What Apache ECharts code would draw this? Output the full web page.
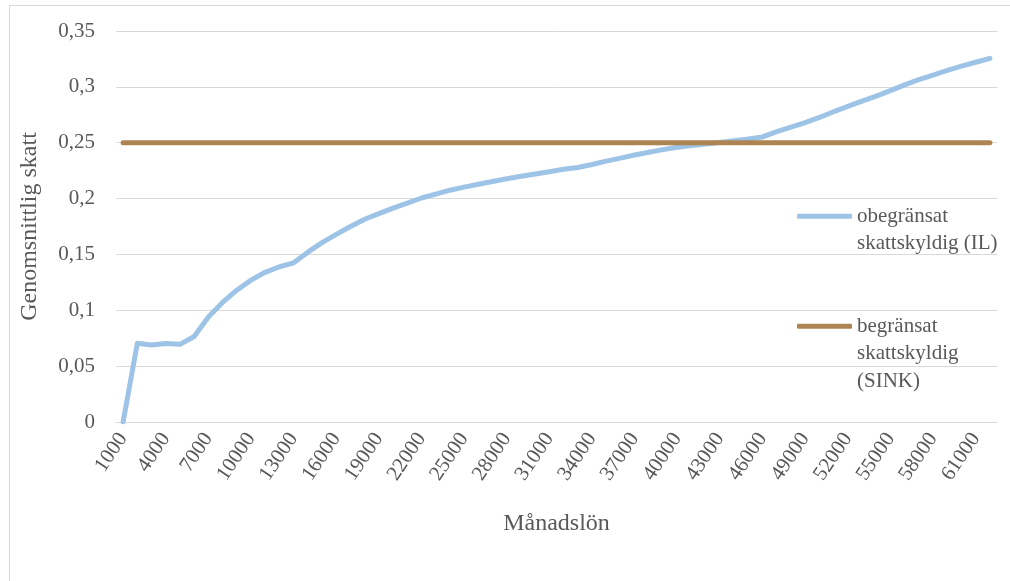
<!DOCTYPE html>
<html>
<head>
<meta charset="utf-8">
<script src="https://cdn.jsdelivr.net/npm/echarts@6/dist/echarts.min.js"></script>
<style>
  html, body { margin: 0; padding: 0; background: #fff; }
  #main { width: 1010px; height: 581px; }
</style>
</head>
<body>
<div id="main"></div>
<script>
// månadslön (kategorier)
var loner = [
  '1000', '2000', '3000', '4000', '5000', '6000', '7000', '8000', '9000', '10000',
  '11000', '12000', '13000', '14000', '15000', '16000', '17000', '18000', '19000', '20000',
  '21000', '22000', '23000', '24000', '25000', '26000', '27000', '28000', '29000', '30000',
  '31000', '32000', '33000', '34000', '35000', '36000', '37000', '38000', '39000', '40000',
  '41000', '42000', '43000', '44000', '45000', '46000', '47000', '48000', '49000', '50000',
  '51000', '52000', '53000', '54000', '55000', '56000', '57000', '58000', '59000', '60000',
  '61000', '62000'
];

// obegränsat skattskyldig (IL)
var il = [
  0, 0.0704, 0.069, 0.0703, 0.0695, 0.0765, 0.094, 0.107, 0.118, 0.127,
  0.134, 0.139, 0.1425, 0.152, 0.1605, 0.168, 0.175, 0.1815, 0.1865, 0.1915,
  0.196, 0.2005, 0.204, 0.2075, 0.2102, 0.2128, 0.2153, 0.2178, 0.220, 0.222,
  0.224, 0.2262, 0.2278, 0.2305, 0.2335, 0.2362, 0.239, 0.2415, 0.2438, 0.246,
  0.2475, 0.2488, 0.2502, 0.2517, 0.2533, 0.2552, 0.260, 0.264, 0.268, 0.2726,
  0.2777, 0.2826, 0.2873, 0.2917, 0.2966, 0.3018, 0.3064, 0.3106, 0.3147, 0.3185,
  0.322, 0.3255
];

// begränsat skattskyldig (SINK)
var sink = [
  0.25, 0.25, 0.25, 0.25, 0.25, 0.25, 0.25, 0.25, 0.25, 0.25,
  0.25, 0.25, 0.25, 0.25, 0.25, 0.25, 0.25, 0.25, 0.25, 0.25,
  0.25, 0.25, 0.25, 0.25, 0.25, 0.25, 0.25, 0.25, 0.25, 0.25,
  0.25, 0.25, 0.25, 0.25, 0.25, 0.25, 0.25, 0.25, 0.25, 0.25,
  0.25, 0.25, 0.25, 0.25, 0.25, 0.25, 0.25, 0.25, 0.25, 0.25,
  0.25, 0.25, 0.25, 0.25, 0.25, 0.25, 0.25, 0.25, 0.25, 0.25,
  0.25, 0.25
];

var namn_il = 'obegränsat skattskyldig (IL)';
var namn_sink = 'begränsat skattskyldig (SINK)';

// legend-text, tomma rader så att ikonen hamnar vid första raden
var legend_txt = {};
legend_txt[namn_il] = '\nobegränsat\nskattskyldig (IL)';
legend_txt[namn_sink] = '\n\nbegränsat\nskattskyldig\n(SINK)';

var font = 'Liberation Serif';
var grå = '#595959';

var chart = echarts.init(document.getElementById('main'));

chart.setOption({
  animation: false,
  textStyle: { fontFamily: font },
  graphic: [{
    type: 'rect',
    shape: { x: 9.5, y: 5.5, width: 1100, height: 700 },
    style: { fill: 'none', stroke: '#d9d9d9', lineWidth: 1 },
    silent: true, z: -10
  }],
  grid: { left: 116, right: 13, top: 31, bottom: 159 },
  legend: {
    orient: 'vertical',
    left: 797,
    top: 175,
    padding: 0,
    itemGap: 0,
    itemWidth: 55,
    itemHeight: 5,
    icon: 'roundRect',
    data: [namn_il, namn_sink],
    formatter: function(n) { return legend_txt[n]; },
    textStyle: { fontFamily: font, fontSize: 21, color: grå, lineHeight: 27.5 }
  },
  xAxis: {
    type: 'category',
    data: loner,
    boundaryGap: true,
    name: 'Månadslön',
    nameLocation: 'middle',
    nameGap: 90,
    nameTextStyle: { fontFamily: font, fontSize: 24, color: grå },
    axisLine: { lineStyle: { color: '#d9d9d9', width: 1 } },
    axisTick: { interval: 0, length: 5, lineStyle: { color: '#d9d9d9' } },
    axisLabel: { interval: 2, rotate: 56, margin: 13, fontFamily: font, fontSize: 21, color: grå }
  },
  yAxis: {
    type: 'value',
    min: 0,
    max: 0.35,
    interval: 0.05,
    name: 'Genomsnittlig skatt',
    nameLocation: 'middle',
    nameRotate: 90,
    nameGap: 74,
    nameTextStyle: { fontFamily: font, fontSize: 24, color: grå },
    axisLine: { show: false },
    axisTick: { show: false },
    splitLine: { lineStyle: { color: '#d9d9d9', width: 1 } },
    axisLabel: {
      margin: 21,
      fontFamily: font, fontSize: 21, color: grå,
      formatter: function(v) { return String(+v.toFixed(2)).replace('.', ','); }
    }
  },
  series: [
    {
      name: namn_il,
      type: 'line',
      data: il,
      showSymbol: false,
      symbol: 'none',
      color: '#9dc3e6',
      lineStyle: { width: 5, color: '#9dc3e6', cap: 'round', join: 'round' }
    },
    {
      name: namn_sink,
      type: 'line',
      data: sink,
      showSymbol: false,
      symbol: 'none',
      color: '#ae8453',
      lineStyle: { width: 5, color: '#ae8453', cap: 'round' }
    }
  ]
});
</script>
</body>
</html>
